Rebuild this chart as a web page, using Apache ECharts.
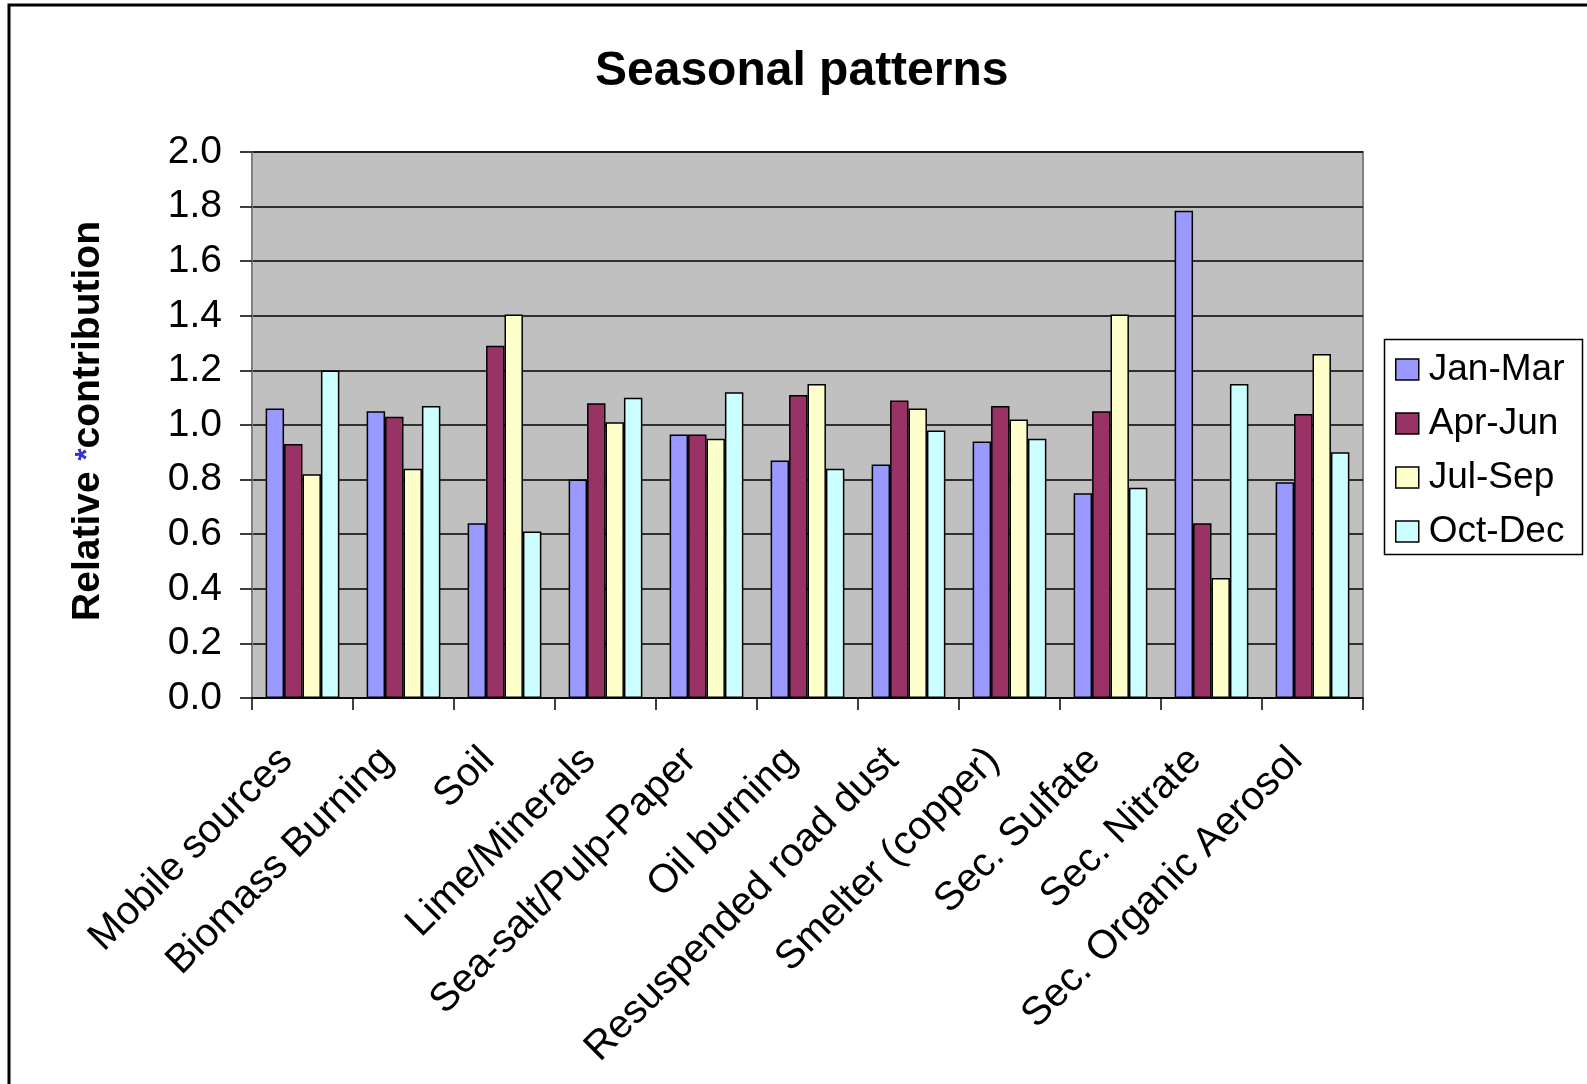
<!DOCTYPE html>
<html>
<head>
<meta charset="utf-8">
<script src="https://cdn.jsdelivr.net/npm/echarts@6/dist/echarts.min.js"></script>
<style>
  html, body { margin: 0; padding: 0; background: #fff; }
  #chart { width: 1587px; height: 1084px; }
</style>
</head>
<body>
<div id="chart"></div>
<script>
// Source categories along the x axis
const categories = [
  'Mobile sources', 'Biomass Burning', 'Soil', 'Lime/Minerals',
  'Sea-salt/Pulp-Paper', 'Oil burning', 'Resuspended road dust',
  'Smelter (copper)', 'Sec. Sulfate', 'Sec. Nitrate', 'Sec. Organic Aerosol'
];

// Seasonal relative contributions, one array per quarter
const janMar = [1.06, 1.05, 0.64, 0.80, 0.965, 0.87, 0.855, 0.94, 0.75, 1.785, 0.79];
const aprJun = [0.93, 1.03, 1.29, 1.08, 0.965, 1.11, 1.09, 1.07, 1.05, 0.64, 1.04];
const julSep = [0.82, 0.84, 1.405, 1.01, 0.95, 1.15, 1.06, 1.02, 1.405, 0.44, 1.26];
const octDec = [1.20, 1.07, 0.61, 1.10, 1.12, 0.84, 0.98, 0.95, 0.77, 1.15, 0.90];

const seasons = ['Jan-Mar', 'Apr-Jun', 'Jul-Sep', 'Oct-Dec'];
const seasonColors = ['#9999FF', '#993366', '#FFFFCC', '#CCFFFF'];

// Y axis ticks
const yMin = 0, yMax = 2, yStep = 0.2;

const FONT = '"Liberation Sans", Arial, sans-serif';

const chart = echarts.init(document.getElementById('chart'), null, { renderer: 'canvas' });

const seriesData = [janMar, aprJun, julSep, octDec];

chart.setOption({
  animation: false,
  backgroundColor: '#ffffff',
  title: {
    text: 'Seasonal patterns',
    left: 595,
    top: 48,
    padding: 0,
    textStyle: { fontFamily: FONT, fontSize: 48, fontWeight: 'bold', color: '#000' }
  },
  graphic: [
    {
      type: 'rect', z: 0,
      shape: { x: 9, y: 5, width: 1700, height: 1200 },
      style: { fill: 'none', stroke: '#000', lineWidth: 3 }
    },
    {
      type: 'rect', z: 1,
      shape: { x: 1384.5, y: 339.5, width: 198, height: 215 },
      style: { fill: '#fff', stroke: '#000', lineWidth: 1.5 }
    }
  ],
  legend: {
    orient: 'vertical',
    left: 1395,
    top: 351,
    padding: 0,
    itemGap: 17,
    itemWidth: 23,
    itemHeight: 21,
    icon: 'rect',
    z: 5,
    itemStyle: { borderColor: '#000', borderWidth: 1.5 },
    textStyle: { fontFamily: FONT, fontSize: 37, color: '#000', lineHeight: 37, padding: [0, 0, 0, 5] },
    data: seasons
  },
  grid: {
    left: 252, right: 224, top: 152, bottom: 386,
    show: true,
    backgroundColor: '#C0C0C0',
    borderColor: '#808080',
    borderWidth: 2
  },
  xAxis: {
    type: 'category',
    data: categories,
    boundaryGap: true,
    axisLine: { show: true, lineStyle: { color: '#000', width: 1.5 } },
    axisTick: { show: true, length: 12, alignWithLabel: false, lineStyle: { color: '#000', width: 1.5 } },
    axisLabel: {
      interval: 0, rotate: 45, margin: 40,
      padding: [0, 23, 0, 0],
      fontFamily: FONT, fontSize: 40, color: '#000'
    },
    splitLine: { show: false }
  },
  yAxis: {
    type: 'value',
    min: yMin, max: yMax, interval: yStep,
    name: '{r|Relative }{s|*}{r|contribution}',
    nameLocation: 'middle',
    nameRotate: 90,
    nameGap: 144,
    nameTextStyle: {
      padding: [0, 0, 0, 8],
      rich: {
        r: { fontFamily: FONT, fontSize: 39, fontWeight: 'bold', color: '#000' },
        s: { fontFamily: FONT, fontSize: 31, fontWeight: 'bold', color: '#3333CC' }
      }
    },
    axisLine: { show: true, lineStyle: { color: '#808080', width: 2 } },
    axisTick: { show: true, length: 12, lineStyle: { color: '#000', width: 1.5 } },
    axisLabel: {
      margin: 30,
      fontFamily: FONT, fontSize: 39, color: '#000',
      formatter: v => v.toFixed(1)
    },
    splitLine: { show: true, lineStyle: { color: '#000', width: 1.5 } }
  },
  series: seasons.map((name, i) => ({
    name,
    type: 'bar',
    data: seriesData[i],
    barGap: '0%',
    barCategoryGap: '27%',
    itemStyle: { color: seasonColors[i], borderColor: '#000', borderWidth: 1.5 }
  }))
});
</script>
</body>
</html>
